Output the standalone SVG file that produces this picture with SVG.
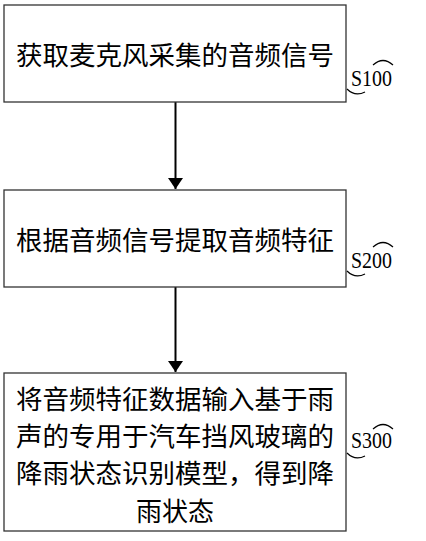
<svg xmlns="http://www.w3.org/2000/svg" width="426" height="541" viewBox="0 0 426 541">
<style>
.box{fill:#fff;stroke:#333;stroke-width:1.3}
.t{font-family:"Noto Sans CJK SC","Noto Sans CJK JP",sans-serif;font-size:26px;fill:#000;text-anchor:middle;dominant-baseline:central}
.lbl{font-family:"Liberation Serif",serif;font-size:24px;fill:#000}
.cv{fill:none;stroke:#000;stroke-width:1.2}
.conn{stroke:#000;stroke-width:2;fill:none}
</style>
<defs>
<marker id="ah" markerUnits="userSpaceOnUse" markerWidth="16" markerHeight="16" refX="11" refY="7.5" orient="auto">
<polygon points="0,0 11,7.5 0,15" fill="#000"/>
</marker>
</defs>
<rect width="426" height="541" fill="#fff"/>
<g id="connectors">
<line class="conn" x1="175.5" y1="102" x2="175.5" y2="189" marker-end="url(#ah)"/>
<line class="conn" x1="175.5" y1="287" x2="175.5" y2="372" marker-end="url(#ah)"/>
</g>
<g id="s100">
<rect class="box" x="4" y="5" width="342" height="97"/>
<text class="t" x="175" y="53" textLength="318" lengthAdjust="spacingAndGlyphs">获取麦克风采集的音频信号</text>
<text class="lbl" x="351" y="86" textLength="41" lengthAdjust="spacingAndGlyphs">S100</text>
<path class="cv" d="M373,65 Q383,56 393,65"/>
<path class="cv" d="M347,89 Q355,97 365,92"/>
</g>
<g id="s200">
<rect class="box" x="4" y="190" width="342" height="97"/>
<text class="t" x="175" y="238" textLength="318" lengthAdjust="spacingAndGlyphs">根据音频信号提取音频特征</text>
<text class="lbl" x="351" y="268" textLength="41" lengthAdjust="spacingAndGlyphs">S200</text>
<path class="cv" d="M373,247 Q383,238 393,247"/>
<path class="cv" d="M347,271 Q355,279 365,274"/>
</g>
<g id="s300">
<rect class="box" x="4" y="373" width="342" height="158"/>
<text class="t" x="175" y="397" textLength="318" lengthAdjust="spacingAndGlyphs">将音频特征数据输入基于雨</text>
<text class="t" x="175" y="434" textLength="318" lengthAdjust="spacingAndGlyphs">声的专用于汽车挡风玻璃的</text>
<text class="t" x="175" y="471" textLength="318" lengthAdjust="spacingAndGlyphs">降雨状态识别模型，得到降</text>
<text class="t" x="175" y="509">雨状态</text>
<text class="lbl" x="351" y="448" textLength="41" lengthAdjust="spacingAndGlyphs">S300</text>
<path class="cv" d="M373,429 Q383,420 393,429"/>
<path class="cv" d="M347,453 Q355,461 365,456"/>
</g>
</svg>
